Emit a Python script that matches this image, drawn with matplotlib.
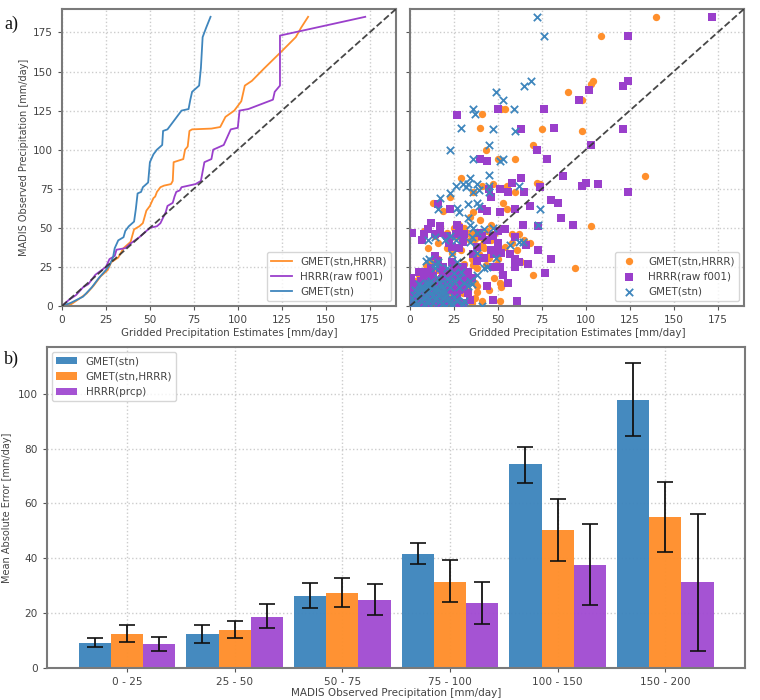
"""
plot.py
-------
Precipitation estimates vs MADIS observations: QQ curves, scatter and
mean absolute error by intensity bin.
"""

import numpy as np
import matplotlib
matplotlib.use("Agg")
import matplotlib.pyplot as plt


# ── Data ─────────────────────────────────────────────────────────────────────

QQ_STN = [(0, 0), (5, 2), (12, 6), (17, 12), (21, 18), (25, 23), (27, 26), (29, 31), (30, 37),
          (32, 42), (35, 44), (36, 48), (38, 51), (41, 54), (42, 62), (43, 72), (45, 73), (46, 76),
          (49, 79), (50, 92), (52, 97), (54, 100), (57, 103), (57.5, 112), (60, 113), (64, 119),
          (68, 125), (72, 126), (73, 132), (74, 137), (78, 141), (79, 152), (80, 172), (82, 178),
          (84.5, 185)]
QQ_BOTH = [(0, 0), (5, 1), (9, 4), (14, 8), (18, 13), (22, 19), (26, 23), (28, 28), (32, 31),
           (35, 37), (39, 41), (41, 49), (44, 51), (46, 53), (48, 61), (50, 64), (52, 69), (53, 70),
           (54, 73), (56, 76), (58, 77), (62, 78), (63, 80), (63.5, 92), (69, 94), (70, 100),
           (71.5, 102), (72.5, 112), (74, 113), (85, 113.5), (90, 114.5), (93, 121), (98, 125),
           (102, 131), (103, 136), (104, 141), (108, 144), (115, 152), (125, 163), (133, 172),
           (136, 178), (140, 185)]
QQ_HRRR = [(0, 0), (4, 4), (8, 7), (12, 12), (15, 14), (19, 20), (25, 25), (27, 30), (30, 32),
           (31, 36), (36, 37), (39, 40), (44, 44), (47, 47), (50, 50), (54, 51), (56, 53), (59, 60),
           (60, 64), (63, 66), (64, 70), (65, 73), (67, 74), (68, 76), (72, 77), (76, 78), (79, 80),
           (81, 92), (85, 94), (86, 100), (88, 101), (92, 103), (96, 113), (100, 114), (101, 125),
           (106, 126), (120, 132), (121, 137), (124, 141), (124, 173), (172.5, 185)]

PTS_BOTH = [(140, 185), (108.5, 173), (104, 144), (103, 142), (90, 137), (98, 132), (54, 126), (52, 126),
            (41, 123), (40, 114), (75, 113), (98, 112), (70, 103), (43, 100), (50, 94), (60, 94),
            (133.5, 83), (29, 82), (72, 79), (74, 78), (55, 77), (47, 78), (41, 77), (60, 73),
            (36, 73), (23, 70), (13, 66), (53, 66), (55, 62), (19, 61), (36, 60), (34, 57), (40, 55),
            (46, 52), (103, 51), (17, 51), (8, 48), (21, 47), (29, 47), (35, 47), (25, 50), (40, 44),
            (14, 45), (34, 42), (39, 38), (42, 37), (46, 42), (58, 40), (62, 46), (68, 40), (61, 36),
            (46, 34), (50, 38), (47, 25), (44, 31), (45, 31), (94, 24), (70, 20), (48, 18), (51, 15),
            (37, 15), (38, 13), (45, 10), (37, 5), (41, 3), (51, 3), (61, 0), (38, 24), (24, 34),
            (27, 26), (20, 22), (12, 29), (16, 30), (8, 18), (11, 14), (5, 20), (3, 16), (6, 12),
            (17, 5), (20, 7), (22, 3), (13, 10), (25, 12), (27, 17), (31, 22), (33, 10), (9, 3),
            (4, 5), (2, 2), (15, 17), (18, 25), (30, 8), (35, 30), (29, 36), (22, 42), (10, 37),
            (16, 40), (28, 52), (26, 44), (44, 48), (50, 30), (52, 12), (63, 28), (65, 42), (12, 6),
            (31, 50), (33, 47), (37, 43), (41, 39), (48, 46), (43, 26), (49, 26), (39, 33), (36, 26),
            (31, 27), (24, 29), (21, 37), (19, 18), (16, 23), (11, 21), (9, 26), (6, 19), (14, 5),
            (19, 1), (24, 8), (28, 1), (35, 2), (26, 10), (29, 14), (33, 18), (38, 9), (58, 46), (54, 38)]
PTS_HRRR = [(172, 185), (124, 173), (124, 144), (121, 141), (102, 138), (96, 132), (50, 126), (76, 126),
            (27, 122), (63, 113), (82, 114), (121, 113), (103, 103), (72, 100), (78, 94), (40, 94),
            (44, 93), (87, 83), (63, 82), (58, 79), (100, 79), (98, 77), (107, 78), (74, 76), (51, 75),
            (56, 73), (65, 73), (124, 73), (45, 75), (80, 68), (84, 66), (68, 64), (46, 70), (16, 65),
            (23, 62), (41, 62), (44, 61), (51, 60), (60, 62), (86, 56), (93, 52), (64, 52), (73, 51),
            (1, 47), (12, 53), (17, 51), (27, 52), (28, 50), (17, 47), (8, 46), (7, 42), (21, 45),
            (24, 38), (28, 37), (39, 47), (41, 45), (47, 45), (50, 48), (54, 49), (60, 44), (66, 39),
            (73, 36), (80, 30), (57, 33), (60, 30), (62, 28), (67, 27), (60, 25), (47, 25), (51, 25),
            (53, 20), (56, 15), (77, 21), (44, 13), (47, 4), (61, 3), (0.5, 18), (1, 8), (3, 10),
            (5, 22), (9, 22), (12, 24), (16, 29), (14, 32), (17, 24), (24, 28), (27, 24), (30, 25),
            (33, 22), (38, 29), (36, 33), (38, 38), (44, 42), (50, 40), (50, 36), (52, 34), (19, 20),
            (21, 15), (26, 20), (29, 15), (31, 11), (33, 8), (22, 10), (14, 14), (10, 17), (7, 13),
            (11, 8), (4, 4), (2, 12), (6, 2), (8, 6), (13, 3), (17, 6), (3, 1), (1, 2), (9, 11),
            (23, 4), (26, 2), (30, 2), (34, 4), (18, 12), (27, 7), (5, 9), (15, 9), (24, 17), (1, 14),
            (3, 6), (6, 16), (2, 4), (5, 1), (9, 2), (12, 5), (16, 1), (20, 3), (24, 12), (28, 19),
            (31, 20), (22, 22), (19, 25), (25, 24), (29, 23), (13, 19), (8, 20), (4, 13), (11, 11),
            (15, 16), (7, 9), (10, 5), (18, 17), (23, 20), (32, 16), (20, 8), (28, 10), (35, 18),
            (26, 46), (31, 46), (22, 40), (30, 41), (14, 46), (10, 49), (42, 31), (46, 36), (48, 33)]
PTS_STN = [(72, 185), (76, 173), (69, 144), (65, 141), (49, 137), (53, 132), (36, 126), (59, 126),
           (37, 123), (29, 114), (47, 113), (60, 112), (45, 103), (23, 100), (36, 94), (53, 94), (51, 93),
           (45, 84), (34, 82), (26, 77), (30, 78), (33, 78), (38, 78), (45, 77), (62, 77), (32, 76),
           (36, 73), (39, 74), (45, 73), (23, 72), (17, 69), (16, 62), (27, 63), (33, 65), (38, 66),
           (39, 64), (28, 60), (74, 62), (33, 56), (34, 52), (36, 50), (38, 47), (35, 44), (34, 41),
           (47, 50), (42, 49), (73, 52), (10, 42), (14, 44), (20, 42), (23, 45), (26, 42), (57, 39),
           (62, 41), (64, 41), (38, 34), (49, 31), (44, 25), (42, 24), (9, 29), (11, 30), (14, 27), (16, 28),
           (38, 20), (34, 16), (31, 15), (35, 14), (33, 13), (29, 22), (27, 28), (24, 33), (41, 0),
           (14, 24), (21, 24), (25, 21), (16, 18), (12, 16), (18, 13), (5, 14), (7, 11), (10, 13),
           (14, 10), (20, 9), (25, 6), (27, 3), (31, 3), (23, 12), (3, 3), (5, 5), (7, 3), (9, 7),
           (11, 4), (13, 2), (15, 6), (17, 3), (2, 7), (4, 9), (6, 7), (8, 1), (10, 9), (12, 12),
           (1, 1), (19, 2), (22, 5), (28, 12), (16, 10), (21, 17), (28, 18), (13, 7), (19, 5),
           (2, 2), (4, 1), (6, 4), (8, 5), (10, 2), (12, 8), (14, 4), (16, 7), (18, 9), (20, 6),
           (22, 2), (24, 1), (3, 10), (5, 8), (7, 13), (9, 11), (11, 15), (13, 14), (15, 12), (17, 15),
           (19, 11), (21, 14), (23, 16), (25, 16), (1, 5), (18, 1), (30, 1), (26, 4), (6, 12), (9, 15)]

BINS = ["0 - 25", "25 - 50", "50 - 75", "75 - 100", "100 - 150", "150 - 200"]
MAE_STN = [9.2, 12.3, 26.3, 41.7, 74.2, 97.8]
MAE_BOTH = [12.4, 14.0, 27.5, 31.5, 50.2, 55.0]
MAE_HRRR = [8.7, 18.7, 24.7, 23.7, 37.6, 31.2]
LOW_STN = [7.5, 9.0, 22.0, 37.8, 67.5, 84.4]
HIGH_STN = [11.0, 15.5, 31.0, 45.7, 80.7, 111.3]
LOW_BOTH = [9.5, 10.8, 22.3, 24.1, 38.9, 42.1]
HIGH_BOTH = [15.5, 17.3, 32.9, 39.2, 61.6, 67.9]
LOW_HRRR = [6.3, 14.5, 19.3, 16.0, 22.9, 6.3]
HIGH_HRRR = [11.3, 23.2, 30.5, 31.5, 52.4, 56.3]

BLUE = "#3f86bd"
ORANGE = "#ff8f2c"
PURPLE = "#9a3fcb"
GREY_TEXT = "#444444"
W, H = 760, 700


def axes_px(fig, left, top, right, bottom):
    """Add axes from pixel edges (origin at top left)."""
    return fig.add_axes([left / W, 1 - bottom / H, (right - left) / W, (bottom - top) / H])


def style_axes(ax):
    ax.grid(True, linestyle=":", color="#cccccc", linewidth=1.0)
    ax.set_axisbelow(True)
    ax.tick_params(labelsize=7.6, colors=GREY_TEXT, length=3, color="#555555")
    for spine in ax.spines.values():
        spine.set_color("#7a7a7a")
        spine.set_linewidth(1.5)


def style_top(ax):
    style_axes(ax)
    ax.set_xlim(0, 190)
    ax.set_ylim(0, 190)
    ax.set_xticks(np.arange(0, 176, 25))
    ax.set_yticks(np.arange(0, 176, 25))
    ax.plot([0, 190], [0, 190], color="#333333", linestyle="--", linewidth=1.3, alpha=0.9, zorder=5)
    ax.set_xlabel("Gridded Precipitation Estimates [mm/day]", fontsize=7.4, color=GREY_TEXT, labelpad=2)


plt.rcParams["font.family"] = "DejaVu Sans"
fig = plt.figure(figsize=(W / 100, H / 100), dpi=100)

# ── a) QQ curves ─────────────────────────────────────────────────────────────

ax1 = axes_px(fig, 62, 9, 396, 306)
style_top(ax1)
ax1.plot(*zip(*QQ_BOTH), color=ORANGE, linewidth=1.3, label="GMET(stn,HRRR)")
ax1.plot(*zip(*QQ_HRRR), color=PURPLE, linewidth=1.3, label="HRRR(raw f001)")
ax1.plot(*zip(*QQ_STN), color=BLUE, linewidth=1.3, label="GMET(stn)")
ax1.set_ylabel("MADIS Observed Precipitation [mm/day]", fontsize=7, color=GREY_TEXT, labelpad=3)
ax1.legend(loc="lower right", fontsize=7.5, labelcolor=GREY_TEXT)

# ── a) scatter ───────────────────────────────────────────────────────────────

ax2 = axes_px(fig, 410, 9, 744, 306)
style_top(ax2)
ax2.scatter(*zip(*PTS_BOTH), s=28, marker="o", color=ORANGE, linewidths=0, label="GMET(stn,HRRR)", zorder=2)
ax2.scatter(*zip(*PTS_HRRR), s=28, marker="s", color=PURPLE, linewidths=0, label="HRRR(raw f001)", zorder=3)
ax2.scatter(*zip(*PTS_STN), s=28, marker="x", color=BLUE, linewidths=1.3, label="GMET(stn)", zorder=4)
ax2.tick_params(labelleft=False)
ax2.legend(loc="lower right", fontsize=7.5, labelcolor=GREY_TEXT)

# ── b) MAE bars ──────────────────────────────────────────────────────────────

ax3 = axes_px(fig, 47, 347, 745, 668)
style_axes(ax3)
pos = np.arange(len(BINS))
width = 0.3
series = [
    (MAE_STN, LOW_STN, HIGH_STN, BLUE, "GMET(stn)", -width),
    (MAE_BOTH, LOW_BOTH, HIGH_BOTH, ORANGE, "GMET(stn,HRRR)", 0),
    (MAE_HRRR, LOW_HRRR, HIGH_HRRR, "#a24dd2", "HRRR(prcp)", width),
]
for vals, low, high, color, label, shift in series:
    ax3.bar(pos + shift, vals, width, color=color, alpha=0.97, label=label)
    yerr = [np.array(vals) - np.array(low), np.array(high) - np.array(vals)]
    ax3.errorbar(pos + shift, vals, yerr=yerr, fmt="none", ecolor="#111111", elinewidth=1.3,
                 capsize=5.5, capthick=1.2, zorder=4)
ax3.set_xlim(-0.743, 5.74)
ax3.set_ylim(0, 117)
ax3.set_xticks(pos)
ax3.set_xticklabels(BINS)
ax3.set_yticks(np.arange(0, 101, 20))
ax3.set_xlabel("MADIS Observed Precipitation [mm/day]", fontsize=7.5, color=GREY_TEXT, labelpad=1)
ax3.set_ylabel("Mean Absolute Error [mm/day]", fontsize=7, color=GREY_TEXT, labelpad=4)
ax3.legend(loc="upper left", fontsize=7.5, labelcolor=GREY_TEXT)

# ── panel letters ────────────────────────────────────────────────────────────

fig.text(4 / W, 1 - 29 / H, "a)", family="Liberation Serif", fontsize=13, color="#111111")
fig.text(4 / W, 1 - 364 / H, "b)", family="Liberation Serif", fontsize=13, color="#111111")

fig.savefig("out.png", dpi=100)
